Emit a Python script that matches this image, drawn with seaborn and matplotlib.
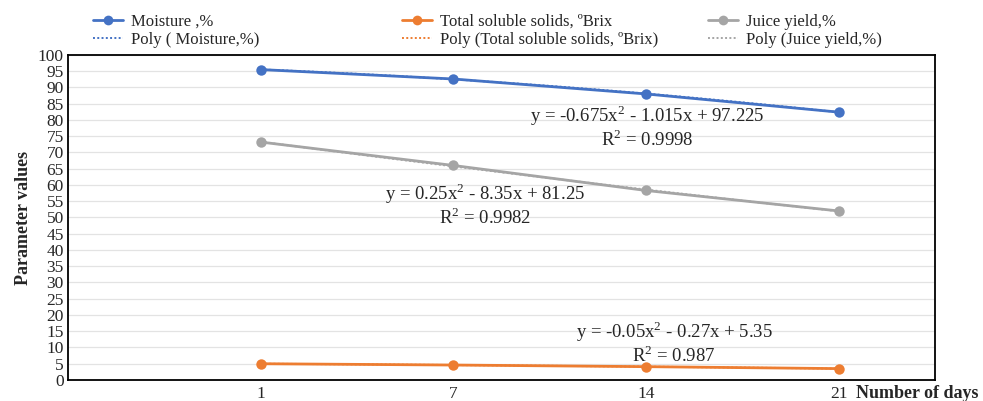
import numpy as np
import pandas as pd
import matplotlib
matplotlib.use("Agg")
import matplotlib.pyplot as plt
import seaborn as sns
from matplotlib.lines import Line2D

days = ["1", "7", "14", "21"]
moisture = [95.5, 92.6, 88.0, 82.4]
tss = [5.0, 4.6, 4.1, 3.5]
juice = [73.2, 66.0, 58.3, 52.0]

series_names = ["Moisture ,%", "Total soluble solids, \u00baBrix", "Juice yield,%"]
poly_names = ["Poly ( Moisture,%)", "Poly (Total soluble solids, \u00baBrix)", "Poly (Juice yield,%)"]
eq_texts = ["y = -0.675x$^2$ - 1.015x + 97.225\nR$^2$ = 0.9998",
            "y = 0.25x$^2$ - 8.35x + 81.25\nR$^2$ = 0.9982",
            "y = -0.05x$^2$ - 0.27x + 5.35\nR$^2$ = 0.987"]
colors = ["#4472C4", "#ED7D31", "#A5A5A5"]

sns.set_theme(style="white")
plt.rcParams['font.family'] = ['Liberation Serif', 'DejaVu Serif']
plt.rcParams['mathtext.fontset'] = 'custom'
plt.rcParams['mathtext.rm'] = 'Liberation Serif'

pos = np.arange(len(days))
df = pd.DataFrame({
    "pos": np.tile(pos, 3),
    "value": moisture + tss + juice,
    "series": np.repeat(series_names, len(days)),
})

fig = plt.figure(figsize=(9.83, 4.01), dpi=100)
ax = fig.add_axes([0.0692, 0.0524, 0.882, 0.8106])

sns.lineplot(data=df, x="pos", y="value", hue="series", hue_order=series_names,
             palette=colors, marker="o", markersize=7.5, markeredgewidth=0,
             linewidth=2, ax=ax, legend=False, zorder=3)

# polynomial (order 2) trendlines, like Excel
xf = np.linspace(1, len(days), 60)
for vals, c in zip([moisture, tss, juice], colors):
    coef = np.polyfit(np.arange(1, len(days) + 1), vals, 2)
    ax.plot(xf - 1, np.polyval(coef, xf), linestyle=(0, (1, 1.2)), color=c,
            linewidth=1.4, zorder=2)

ax.set_xlim(-1, len(days) - 0.5)
ax.set_ylim(0, 100)
ax.set_yticks(np.arange(0, 101, 5))
ax.set_xticks(pos)
ax.set_xticklabels(days)
ax.tick_params(axis='both', labelsize=12.5, length=0, pad=3)
ax.tick_params(axis='x', pad=4)
ax.yaxis.grid(True, color="#E3E3E3", linewidth=0.9)
ax.set_axisbelow(True)
for s in ax.spines.values():
    s.set_color("black")
    s.set_linewidth(1.3)
ax.set_xlabel("")
ax.set_ylabel("Parameter values", fontsize=13, fontweight="bold", labelpad=4)

fig.text(0.871, 0.0185, "Number of days", fontsize=13, fontweight="bold", ha="left", va="center")

# trendline equations
ax.text(0.668, 0.851, eq_texts[0], transform=ax.transAxes, fontsize=13.5, ha="center", va="top",
        linespacing=1.05)
ax.text(0.481, 0.611, eq_texts[1], transform=ax.transAxes, fontsize=13.5,
        ha="center", va="top", linespacing=1.05)
ax.text(0.699, 0.188, eq_texts[2], transform=ax.transAxes, fontsize=13.5, ha="center", va="top",
        linespacing=1.1)

# legend: three groups of two rows
anchors = [(0.0946, 0.966), (0.409, 0.966), (0.720, 0.966)]
for c, n, p, a in zip(colors, series_names, poly_names, anchors):
    h = [Line2D([0], [0], color=c, lw=2, marker="o", markersize=7, markeredgewidth=0),
         Line2D([0], [0], color=c, lw=1.4, linestyle=(0, (1, 1.2)))]
    fig.legend(h, [n, p], loc="upper left", bbox_to_anchor=a,
               frameon=False, fontsize=12, handlelength=1.8, borderpad=0,
               handletextpad=0.5, labelspacing=0.12, borderaxespad=0)

fig.savefig("out.png", dpi=100)
